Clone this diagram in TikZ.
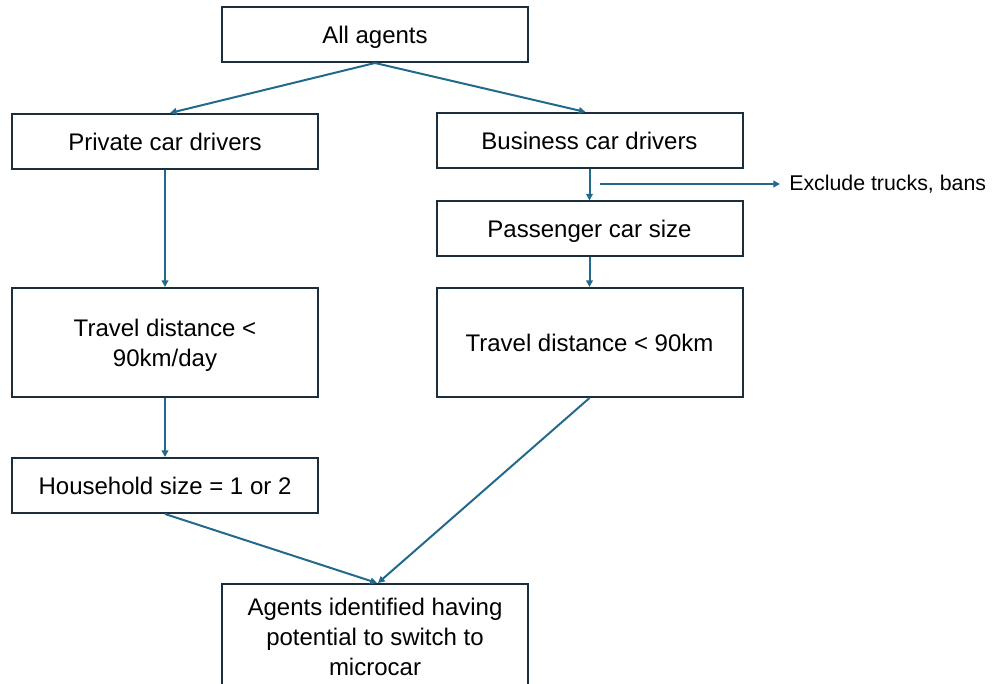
\documentclass[tikz,border=0pt]{standalone}
\usepackage{fontspec}
\setmainfont{Liberation Sans}
\usetikzlibrary{arrows.meta,calc}
\definecolor{boxline}{HTML}{1C2E3B}
\definecolor{flow}{HTML}{23698C}
\tikzset{
  stepbox/.style={draw=boxline, line width=1.5pt, fill=white, minimum width=229.5pt,
    minimum height=41.25pt, align=center, font=\fontsize{18}{22.5}\selectfont, inner sep=4pt,
    text depth=0pt},
  tallbox/.style={stepbox, minimum height=81.75pt},
  flowarrow/.style={draw=flow, line width=1.5pt, -{Triangle[length=5pt,width=5pt]}},
}
\begin{document}
\begin{tikzpicture}[x=0.75pt,y=-0.75pt]
  \useasboundingbox (0,0) rectangle (992,684);
  \begin{scope}
    \clip (0,0) rectangle (992,684);
    \node[stepbox] (all)   at (375,34.5)   {All agents};
    \node[stepbox] (priv)  at (165,141.5)  {Private car drivers};
    \node[stepbox] (bus)   at (589.5,140.5){Business car drivers};
    \node[stepbox] (pass)  at (589.5,229)  {Passenger car size};
    \node[tallbox] (trav1) at (165,342.5)  {Travel distance <\\90km/day};
    \node[tallbox] (trav2) at (589.5,342.5){Travel distance < 90km};
    \node[stepbox] (house) at (165,485.5)  {Household size = 1 or 2};
    \node[stepbox, minimum height=79.5pt] (ident) at (375,637)
      {Agents identified having\\potential to switch to\\microcar};
  \end{scope}
  \node[anchor=west, inner sep=0pt, font=\fontsize{16}{19}\selectfont] (excl) at (789,184) {Exclude trucks, bans};
  \coordinate (exstart) at (600,184);

  \draw[flowarrow] (all.south) -- ($(priv.north)+(5,0)$);
  \draw[flowarrow] (all.south) -- ($(bus.north)+(-4,0)$);
  \draw[flowarrow] (priv.south) -- (trav1.north);
  \draw[flowarrow] (trav1.south) -- (house.north);
  \draw[flowarrow] (house.south) -- ($(ident.north)+(2,0)$);
  \draw[flowarrow] (trav2.south) -- ($(ident.north)+(3,0)$);
  \draw[flowarrow] (bus.south) -- (pass.north);
  \draw[flowarrow] (exstart) -- ($(excl.west)+(-9,0)$);
  \draw[flowarrow] (pass.south) -- (trav2.north);
\end{tikzpicture}
\end{document}
